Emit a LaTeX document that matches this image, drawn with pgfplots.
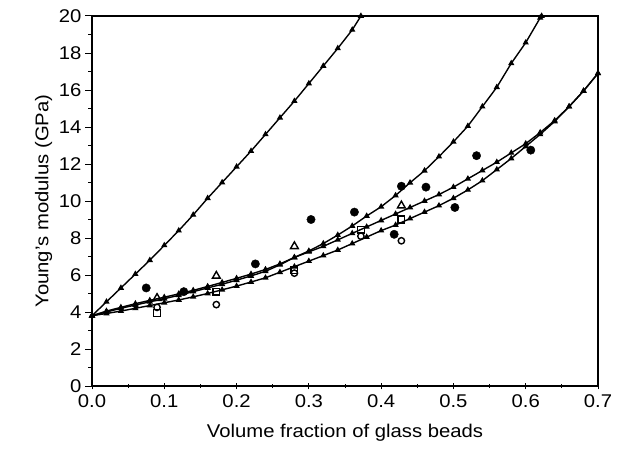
\documentclass[border=0pt]{standalone}
\usepackage{pgfplots}
\pgfplotsset{compat=1.18}
\usepackage{fontspec}
\setmainfont{Liberation Sans}[FakeStretch=1.1]
\begin{document}
\begin{tikzpicture}
\begin{axis}[
  name=ax,
  scale only axis,
  width=506bp, height=370bp,
  xmin=0, xmax=0.7, ymin=0, ymax=20,
  xtick={0,0.1,...,0.7}, ytick={0,2,...,20},
  minor x tick num=1, minor y tick num=1,
  xticklabel style={yshift=-2pt, /pgf/number format/.cd,fixed,fixed zerofill,precision=1},
  /pgf/number format/assume math mode=true,
  tick label style={font=\fontsize{18.5}{20}\selectfont},
  label style={font=\fontsize{18.5}{20}\selectfont},
  xlabel={Volume fraction of glass beads},
  ylabel={Young's modulus (GPa)},
  xlabel style={yshift=-9pt},
  tick pos=left,
  xtick align=center, ytick align=outside,
  major tick length=7pt, minor tick length=4pt,
  axis line style={line width=1.4pt},
  every tick/.style={black, line width=1pt},
  clip=false,
  every axis plot/.append style={black},
]
% curve 1
\addplot[line width=1.4pt, mark=triangle*, mark size=2.3pt] coordinates {
(0,3.8)(0.02,4.55)(0.04,5.3)(0.06,6.05)(0.08,6.8)(0.10,7.6)(0.12,8.4)(0.14,9.25)
(0.16,10.15)(0.18,11.0)(0.20,11.85)(0.22,12.7)(0.24,13.6)(0.26,14.5)(0.28,15.4)
(0.30,16.35)(0.32,17.3)(0.34,18.25)(0.36,19.25)(0.372,20)};
% curve 2
\addplot[line width=1.4pt, mark=triangle*, mark size=2.3pt] coordinates {
(0,3.8)(0.02,4.05)(0.04,4.25)(0.06,4.45)(0.08,4.63)(0.10,4.8)(0.12,4.98)(0.14,5.17)
(0.16,5.38)(0.18,5.6)(0.20,5.82)(0.22,6.05)(0.24,6.3)(0.26,6.6)(0.28,6.95)(0.30,7.3)
(0.32,7.7)(0.34,8.16)(0.36,8.65)(0.38,9.19)(0.40,9.69)(0.42,10.3)(0.44,10.99)
(0.46,11.64)(0.48,12.4)(0.50,13.2)(0.52,14.05)(0.54,15.1)(0.56,16.15)(0.58,17.44)
(0.60,18.56)(0.62,19.9)(0.622,20)};
% curve 3
\addplot[line width=1.4pt, mark=triangle*, mark size=2.3pt] coordinates {
(0,3.8)(0.02,4.0)(0.04,4.2)(0.06,4.38)(0.08,4.55)(0.10,4.72)(0.12,4.9)(0.14,5.1)
(0.16,5.3)(0.18,5.5)(0.20,5.72)(0.22,5.95)(0.24,6.2)(0.26,6.55)(0.28,6.95)(0.30,7.25)
(0.32,7.55)(0.34,7.9)(0.36,8.25)(0.38,8.6)(0.40,8.95)(0.42,9.3)(0.44,9.65)(0.46,10.0)
(0.48,10.35)(0.50,10.75)(0.52,11.2)(0.54,11.65)(0.56,12.1)(0.58,12.6)(0.60,13.1)
(0.62,13.7)(0.64,14.35)(0.66,15.1)(0.68,15.95)(0.70,16.9)};
% curve 4
\addplot[line width=1.4pt, mark=triangle*, mark size=2.3pt] coordinates {
(0,3.8)(0.02,3.92)(0.04,4.05)(0.06,4.2)(0.08,4.35)(0.10,4.5)(0.12,4.65)(0.14,4.82)
(0.16,5.0)(0.18,5.2)(0.20,5.4)(0.22,5.62)(0.24,5.85)(0.26,6.15)(0.28,6.45)(0.30,6.75)
(0.32,7.05)(0.34,7.35)(0.36,7.7)(0.38,8.05)(0.40,8.4)(0.42,8.7)(0.44,9.05)(0.46,9.4)
(0.48,9.75)(0.50,10.15)(0.52,10.6)(0.54,11.1)(0.56,11.7)(0.58,12.3)(0.60,12.95)
(0.62,13.6)(0.64,14.3)(0.66,15.1)(0.68,15.95)(0.70,16.9)};
% filled circles
\addplot[only marks, mark=*, mark size=4.2pt] coordinates {
(0.075,5.3)(0.127,5.1)(0.226,6.6)(0.303,9.0)(0.363,9.4)(0.418,8.2)(0.428,10.8)
(0.462,10.75)(0.502,9.65)(0.532,12.45)(0.607,12.75)};
% open triangles
\addplot[only marks, mark=triangle, mark size=4.5pt, line width=1.4pt] coordinates {
(0.09,4.75)(0.172,5.95)(0.28,7.55)(0.428,9.75)};
% open squares
\addplot[only marks, mark=square, mark size=3.4pt, line width=1.4pt] coordinates {
(0.09,3.95)(0.172,5.1)(0.28,6.25)(0.372,8.45)(0.428,9.0)};
% open circles
\addplot[only marks, mark=o, mark size=3.2pt, line width=1.4pt] coordinates {
(0.09,4.25)(0.172,4.4)(0.28,6.1)(0.372,8.1)(0.428,7.85)};
\end{axis}
\path ([shift={(-92bp,-68bp)}]ax.south west) rectangle ([shift={(24bp,16bp)}]ax.north east);
\end{tikzpicture}
\end{document}
